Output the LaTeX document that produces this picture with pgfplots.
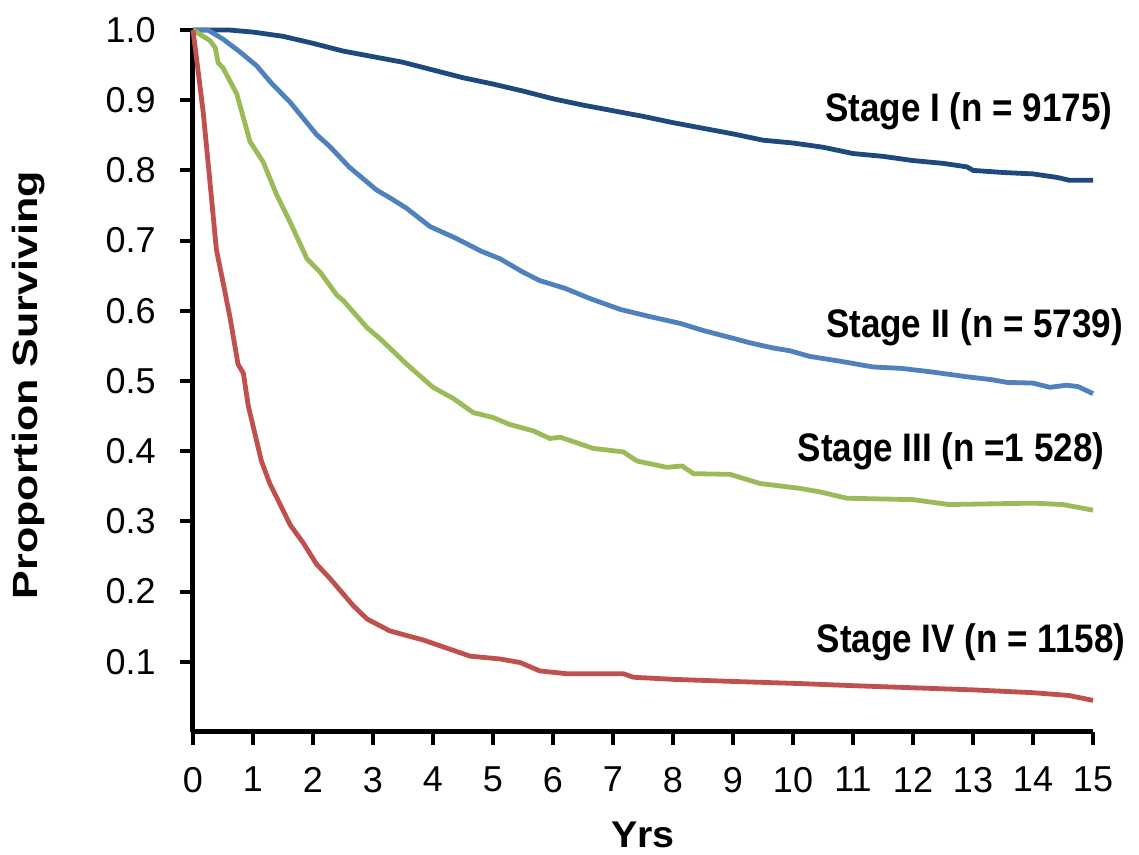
\documentclass[border=0pt]{standalone}
\usepackage{fontspec}
\setmainfont{Liberation Sans}
\newfontfamily\stagefont{Liberation Sans}[FakeStretch=0.88]
\newfontfamily\ylabfont{Liberation Sans}[FakeStretch=1.23]
\newfontfamily\xlabfont{Liberation Sans}[FakeStretch=1.06]
\usepackage{pgfplots}
\pgfplotsset{compat=1.18}

\definecolor{stageI}{HTML}{1F497D}
\definecolor{stageII}{HTML}{4F81BD}
\definecolor{stageIII}{HTML}{9BBB59}
\definecolor{stageIV}{HTML}{C0504D}

\begin{document}
\begin{tikzpicture}
% page = 1139 x 855 px at 0.5pt per px, axis corner at (193,732) px
\useasboundingbox (-96.5pt,-61.5pt) rectangle (473pt,366pt);
\begin{axis}[
    at={(0,0)}, anchor=south west,
    scale only axis,
    width=450pt, height=351pt,
    xmin=0, xmax=15, ymin=0, ymax=1,
    axis x line=bottom, axis y line=left,
    axis line style={-, line width=2.5pt},
    xtick={0,1,...,15},
    ytick={0.1,0.2,...,1.0},
    /pgf/number format/assume math mode=true,
    tick align=outside,
    major tick length=6.5pt,
    every tick/.style={black, line width=2pt},
    xticklabel style={font=\fontsize{18}{21}\selectfont, yshift=-7.5pt},
    yticklabel style={font=\fontsize{18}{21}\selectfont, xshift=-8.6pt,
        /pgf/number format/fixed, /pgf/number format/fixed zerofill,
        /pgf/number format/precision=1},
    xlabel={\xlabfont\bfseries Yrs},
    ylabel={\ylabfont\bfseries Proportion Surviving},
    xlabel style={font=\fontsize{18.6}{22}\selectfont, at={(axis description cs:0.5,-0.1652)}, anchor=base},
    ylabel style={font=\fontsize{17.5}{21}\selectfont, at={(axis description cs:-0.1822,0.494)}, anchor=center},
    every axis plot/.append style={line width=2.4pt, line join=round},
    clip=false,
]
\addplot[stageI] coordinates {
 (0,1.0) (0.3,1.0) (0.6,1.0) (1,0.997) (1.5,0.991) (2,0.981) (2.5,0.970)
 (3,0.962) (3.5,0.954) (4,0.943) (4.5,0.932) (5,0.923) (5.5,0.913) (6,0.902)
 (6.5,0.893) (7,0.885) (7.5,0.877) (8,0.868) (8.5,0.860) (9,0.852) (9.5,0.843)
 (10,0.839) (10.5,0.833) (11,0.824) (11.5,0.820) (12,0.814) (12.5,0.810)
 (12.9,0.805) (13,0.800) (13.5,0.797) (14,0.795) (14.4,0.790) (14.6,0.786) (15,0.786)
};
\addplot[stageII] coordinates {
 (0,1.0) (0.25,1.0) (0.5,0.987) (0.78,0.969) (1.06,0.949) (1.3,0.925) (1.62,0.897)
 (2.06,0.851) (2.28,0.834) (2.6,0.805) (3.06,0.772) (3.3,0.760) (3.56,0.746)
 (3.95,0.720) (4.39,0.703) (4.8,0.685) (5.12,0.674) (5.5,0.655) (5.78,0.643)
 (6.2,0.632) (6.6,0.618) (7.12,0.602) (7.6,0.592) (8.12,0.582) (8.5,0.572)
 (8.95,0.562) (9.3,0.554) (9.67,0.547) (9.95,0.543) (10.28,0.535) (10.8,0.528)
 (11.33,0.520) (11.8,0.518) (12.3,0.513) (12.9,0.506) (13.3,0.502) (13.57,0.498)
 (14.0,0.497) (14.28,0.491) (14.56,0.494) (14.75,0.492) (15,0.482)
};
\addplot[stageIII] coordinates {
 (0,1.0) (0.28,0.985) (0.37,0.975) (0.42,0.953) (0.5,0.946) (0.73,0.909) (0.95,0.841)
 (1.17,0.812) (1.39,0.766) (1.62,0.726) (1.9,0.674) (2.12,0.655) (2.4,0.622)
 (2.5,0.615) (2.9,0.576) (3.12,0.560) (3.56,0.524) (4.0,0.491) (4.34,0.475)
 (4.67,0.455) (5.0,0.448) (5.28,0.438) (5.67,0.429) (5.95,0.418) (6.12,0.420)
 (6.67,0.404) (7.17,0.399) (7.4,0.386) (7.9,0.377) (8.15,0.379) (8.34,0.368)
 (8.95,0.367) (9.45,0.354) (10.12,0.347) (10.45,0.342) (10.9,0.333) (12.0,0.331)
 (12.6,0.324) (14.0,0.326) (14.5,0.324) (15,0.316)
};
\addplot[stageIV] coordinates {
 (0,1.0) (0.17,0.883) (0.28,0.786) (0.39,0.687) (0.5,0.641) (0.62,0.589) (0.75,0.524)
 (0.84,0.511) (0.92,0.465) (1.14,0.386) (1.28,0.354) (1.62,0.295) (1.84,0.269)
 (2.06,0.239) (2.28,0.219) (2.5,0.197) (2.67,0.180) (2.9,0.161) (3.28,0.144)
 (3.84,0.131) (4.28,0.118) (4.62,0.108) (5.12,0.104) (5.45,0.099) (5.78,0.087)
 (6.23,0.083) (7.17,0.083) (7.34,0.078) (8,0.075) (9,0.072) (10.12,0.069)
 (11,0.066) (12,0.063) (13,0.060) (14,0.056) (14.6,0.052) (15,0.045)
};
\tikzset{stage/.style={anchor=base, inner sep=0pt, font=\fontsize{19.9}{23}\stagefont\bfseries}}
\node[stage] at (axis cs:12.933,0.869) {Stage I (n = 9175)};
\node[stage] at (axis cs:13.025,0.5617) {Stage II (n = 5739)};
\node[stage] at (axis cs:12.633,0.385) {Stage III (n =1 528)};
\node[stage] at (axis cs:12.967,0.113) {Stage IV (n = 1158)};
\end{axis}
\end{tikzpicture}
\end{document}
